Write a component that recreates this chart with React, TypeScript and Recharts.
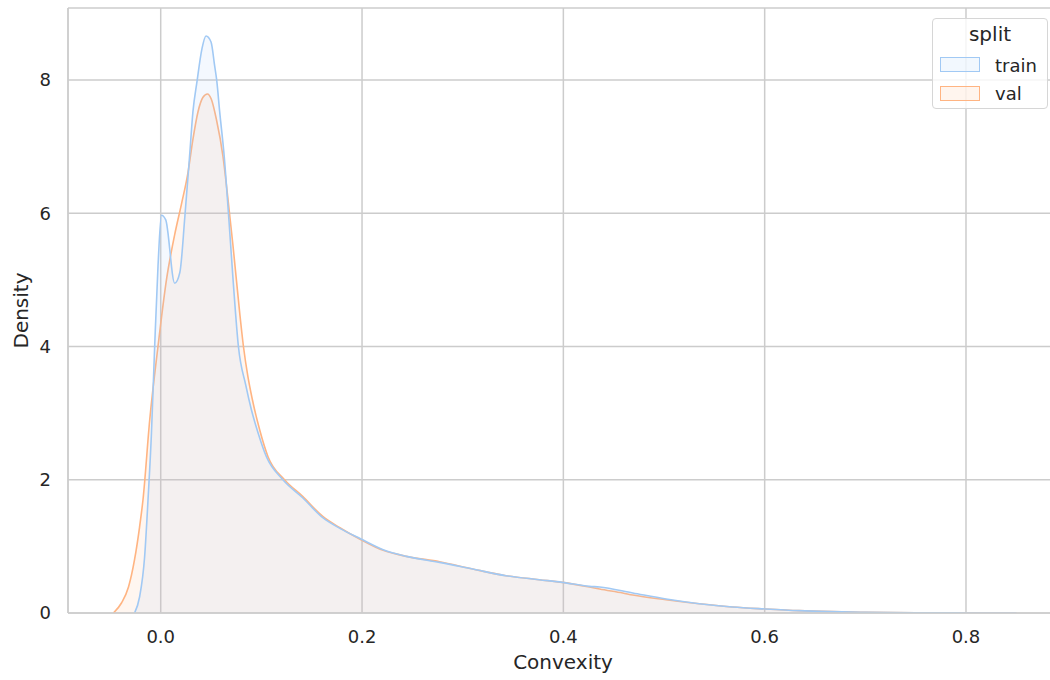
import { Area, CartesianGrid, ComposedChart, Label, Legend, XAxis, YAxis } from 'recharts';

const FONT = 'DejaVu Sans';
const TEXT = '#262626';
const GRID = '#cccccc';

const TRAIN_COLOR = '#a1c9f4';
const VAL_COLOR = '#ffb482';

// density curves (x = convexity, y = density)
const trainX = [
	-0.026, -0.021, -0.016, -0.0126, -0.0092, -0.006, -0.0027, 0.0007, 0.005, 0.0139, 0.019, 0.024, 0.029, 0.032,
	0.036, 0.041, 0.045, 0.05, 0.0536, 0.0556, 0.0586, 0.0631, 0.0673, 0.0719, 0.0772, 0.0845, 0.0901, 0.0966,
	0.1049, 0.1214, 0.141, 0.161, 0.178, 0.199, 0.221, 0.244, 0.277, 0.31, 0.343, 0.376, 0.399, 0.426, 0.436,
	0.469, 0.502, 0.535, 0.568, 0.601, 0.634, 0.667, 0.7, 0.75, 0.8, 0.85,
];
const trainY = [
	0, 0.24, 0.84, 1.7, 2.7, 4.0, 5.2, 5.97, 5.9, 4.95, 5.11, 5.95, 6.92, 7.52, 7.97, 8.47, 8.66, 8.57, 8.21, 8.0,
	7.52, 6.85, 6.0, 5.0, 4.0, 3.42, 3.05, 2.71, 2.35, 2.0, 1.73, 1.43, 1.27, 1.11, 0.95, 0.85, 0.76, 0.66, 0.56,
	0.5, 0.46, 0.4, 0.39, 0.3, 0.21, 0.14, 0.09, 0.06, 0.035, 0.02, 0.01, 0.003, 0.001, 0,
];

const valX = [
	-0.047, -0.039, -0.032, -0.026, -0.021, -0.0176, -0.0109, -0.0027, 0.0057, 0.0139, 0.0205, 0.0271, 0.032,
	0.037, 0.042, 0.0464, 0.0503, 0.0553, 0.0619, 0.0669, 0.0719, 0.0785, 0.0822, 0.0866, 0.0911, 0.0983, 0.1065,
	0.123, 0.141, 0.161, 0.178, 0.199, 0.221, 0.244, 0.277, 0.31, 0.343, 0.376, 0.399, 0.426, 0.436, 0.459, 0.469,
	0.502, 0.535, 0.568, 0.601, 0.634, 0.667, 0.7, 0.75, 0.8, 0.85,
];
const valY = [
	0, 0.15, 0.39, 0.8, 1.29, 1.7, 2.9, 4.0, 5.0, 5.68, 6.13, 6.61, 7.11, 7.52, 7.74, 7.79, 7.71, 7.41, 6.85, 6.2,
	5.5, 4.5, 4.0, 3.55, 3.2, 2.75, 2.35, 2.0, 1.75, 1.45, 1.28, 1.1, 0.94, 0.85, 0.77, 0.66, 0.56, 0.5, 0.46,
	0.39, 0.36, 0.3, 0.27, 0.2, 0.14, 0.09, 0.06, 0.035, 0.02, 0.01, 0.003, 0.001, 0,
];

const xTicks = [0, 0.2, 0.4, 0.6, 0.8];
const yTicks = [0, 2, 4, 6, 8];

const series = [
	{ name: 'train', color: TRAIN_COLOR },
	{ name: 'val', color: VAL_COLOR },
];

const rows = [
	...trainX.map((x, i) => ({ x, train: trainY[i] })),
	...valX.map((x, i) => ({ x, val: valY[i] })),
].sort((a, b) => a.x - b.x);

const SplitLegend = () => (
	<div
		style={{
			boxSizing: 'border-box',
			position: 'relative',
			width: 116,
			height: 91,
			border: '1px solid #d6d6d6',
			borderRadius: 4,
			background: 'rgba(255,255,255,0.8)',
			fontFamily: FONT,
			fontSize: 18,
			lineHeight: '18px',
			color: TEXT,
		}}
	>
		<div style={{ position: 'absolute', top: 5, left: 0, right: 0, textAlign: 'center', fontSize: 20, lineHeight: '20px' }}>
			split
		</div>
		{series.map((s, i) => (
			<div key={s.name}>
				<div
					style={{
						boxSizing: 'border-box',
						position: 'absolute',
						left: 7,
						top: 38 + i * 28.5,
						width: 40,
						height: 15,
						border: `1.5px solid ${s.color}`,
						background: s.color + '22',
					}}
				/>
				<div style={{ position: 'absolute', left: 62, top: 37.5 + i * 28, whiteSpace: 'nowrap' }}>
					{s.name}
				</div>
			</div>
		))}
	</div>
);

export default function App() {
	return (
		<div style={{ position: 'absolute', left: 0, top: 0, width: 1050, height: 680, overflow: 'hidden', background: '#fff' }}>
			<ComposedChart width={1060} height={680} data={rows} margin={{ top: 8, right: 2, bottom: 0, left: 0 }}>
				<CartesianGrid stroke={GRID} strokeWidth={1.5} />
				<XAxis
					dataKey="x"
					type="number"
					domain={[-0.0921, 0.8914]}
					allowDataOverflow
					ticks={xTicks}
					tickFormatter={(v: number) => v.toFixed(1)}
					height={67}
					tickSize={0}
					tickMargin={17}
					tickLine={false}
					axisLine={{ stroke: GRID, strokeWidth: 1.5 }}
					tick={{ fill: TEXT, fontSize: 18, fontFamily: FONT }}
				>
					<Label
						content={(props: any) => {
							const vb = props.viewBox;
							return (
								<text x={vb.x + vb.width / 2} y={vb.y + 56} textAnchor="middle" fill={TEXT} fontSize={20} fontFamily={FONT}>
									Convexity
								</text>
							);
						}}
					/>
				</XAxis>
				<YAxis
					type="number"
					domain={[0, 9.08]}
					allowDataOverflow
					ticks={yTicks}
					width={68}
					tickSize={0}
					tickMargin={17}
					tickLine={false}
					axisLine={{ stroke: GRID, strokeWidth: 1.5 }}
					tick={{ fill: TEXT, fontSize: 18, fontFamily: FONT }}
				>
					<Label
						content={(props: any) => {
							const vb = props.viewBox;
							const cx = 28;
							const cy = vb.y + vb.height / 2;
							return (
								<text
									x={cx}
									y={cy}
									transform={`rotate(-90, ${cx}, ${cy})`}
									textAnchor="middle"
									fill={TEXT}
									fontSize={20}
									fontFamily={FONT}
								>
									Density
								</text>
							);
						}}
					/>
				</YAxis>
				<Area
					type="monotone"
					dataKey="val"
					stroke={VAL_COLOR}
					strokeWidth={1.6}
					fill={VAL_COLOR}
					fillOpacity={0.12}
					connectNulls
					dot={false}
					activeDot={false}
					isAnimationActive={false}
				/>
				<Area
					type="monotone"
					dataKey="train"
					stroke={TRAIN_COLOR}
					strokeWidth={1.6}
					fill={TRAIN_COLOR}
					fillOpacity={0.12}
					connectNulls
					dot={false}
					activeDot={false}
					isAnimationActive={false}
				/>
				<Legend
					layout="horizontal"
					verticalAlign="middle"
					align="center"
					content={() => <SplitLegend />}
					wrapperStyle={{ left: 932, top: 18, width: 116, height: 91 }}
				/>
			</ComposedChart>
		</div>
	);
}
